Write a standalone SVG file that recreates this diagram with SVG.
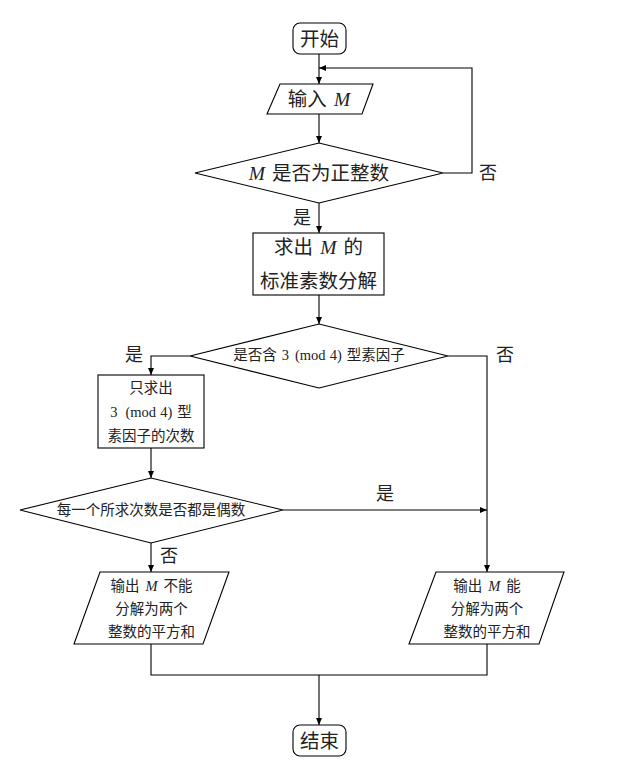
<svg xmlns="http://www.w3.org/2000/svg" width="640" height="780" viewBox="0 0 640 780">
<style>
.s{fill:#fff;stroke:#000;stroke-width:1.1}
.c{fill:none;stroke:#000;stroke-width:1.1}
text{font-family:"Liberation Serif","Noto Sans CJK SC",serif;fill:#222;text-anchor:middle;dominant-baseline:central}
.b{font-size:19.5px}
.m{font-size:14.5px}
.l{font-size:18px}
.i{font-style:italic}
</style>
<defs>
<marker id="a" markerUnits="userSpaceOnUse" markerWidth="8" markerHeight="8" refX="7" refY="4" orient="auto">
<path d="M0,1 L7,4 L0,7 Z" fill="#000"/>
</marker>
</defs>
<g id="start"><rect class="s" x="293" y="23" width="53" height="31" rx="7"/><text class="b" x="319.5" y="39" font-size="20">开始</text></g>
<g id="input"><polygon class="s" points="280,84 373,84 362,114 267,114"/><text class="b" x="319" y="99">输入<tspan class="i" dx="7">M</tspan></text></g>
<g id="check1"><polygon class="s" points="195,173 319,143 443,173 319,203"/><text class="b" x="319" y="173"><tspan class="i">M</tspan><tspan dx="7">是否为正整数</tspan></text></g>
<g id="factor"><rect class="s" x="253" y="233" width="131" height="62"/><text class="b" x="318.5" y="247">求出<tspan class="i" dx="7">M</tspan><tspan dx="7">的</tspan></text><text class="b" x="318.5" y="281">标准素数分解</text></g>
<g id="check2"><polygon class="s" points="190,356 319,324 448,356 319,388"/><text class="m" x="319" y="355">是否含<tspan dx="5">3</tspan><tspan dx="6">(mod</tspan><tspan dx="4">4)</tspan><tspan dx="5">型素因子</tspan></text></g>
<g id="exps"><rect class="s" x="98" y="375" width="106" height="73"/><text class="m" x="151" y="388">只求出</text><text class="m" x="151" y="412">3<tspan dx="8">(mod</tspan><tspan dx="4">4)</tspan><tspan dx="5">型</tspan></text><text class="m" x="151" y="436">素因子的次数</text></g>
<g id="check3"><polygon class="s" points="20,510 151,478 283,510 151,543"/><text class="m" x="151" y="510">每一个所求次数是否都是偶数</text></g>
<g id="outno"><polygon class="s" points="100,572 229,572 203,644 74,644"/><text class="m" x="151.5" y="586">输出<tspan class="i" dx="6">M</tspan><tspan dx="6">不能</tspan></text><text class="m" x="151.5" y="609">分解为两个</text><text class="m" x="151.5" y="632">整数的平方和</text></g>
<g id="outyes"><polygon class="s" points="436,572 564,572 539,644 409,644"/><text class="m" x="487" y="586">输出<tspan class="i" dx="6">M</tspan><tspan dx="6">能</tspan></text><text class="m" x="487" y="609">分解为两个</text><text class="m" x="487" y="632">整数的平方和</text></g>
<g id="end"><rect class="s" x="293" y="725" width="53" height="31" rx="7"/><text class="b" x="319.5" y="741" font-size="20">结束</text></g>
<g id="connectors">
<line class="c" x1="319" y1="54" x2="319" y2="84" marker-end="url(#a)"/>
<line class="c" x1="319" y1="114" x2="319" y2="143" marker-end="url(#a)"/>
<polyline class="c" points="443,173 472,173 472,68 319,68" marker-end="url(#a)"/>
<line class="c" x1="319" y1="203" x2="319" y2="233" marker-end="url(#a)"/>
<line class="c" x1="319" y1="295" x2="319" y2="324" marker-end="url(#a)"/>
<polyline class="c" points="190,356 151,356 151,375" marker-end="url(#a)"/>
<polyline class="c" points="448,356 487,356 487,572" marker-end="url(#a)"/>
<line class="c" x1="151" y1="448" x2="151" y2="478" marker-end="url(#a)"/>
<line class="c" x1="283" y1="510" x2="487" y2="510" marker-end="url(#a)"/>
<line class="c" x1="151" y1="543" x2="151" y2="572" marker-end="url(#a)"/>
<polyline class="c" points="151,644 151,675 487,675 487,644"/>
<line class="c" x1="319" y1="675" x2="319" y2="725" marker-end="url(#a)"/>
<text class="l" x="488" y="173">否</text>
<text class="l" x="302" y="218">是</text>
<text class="l" x="134" y="355">是</text>
<text class="l" x="505" y="355">否</text>
<text class="l" x="385" y="494">是</text>
<text class="l" x="169" y="556">否</text>
</g>
</svg>
